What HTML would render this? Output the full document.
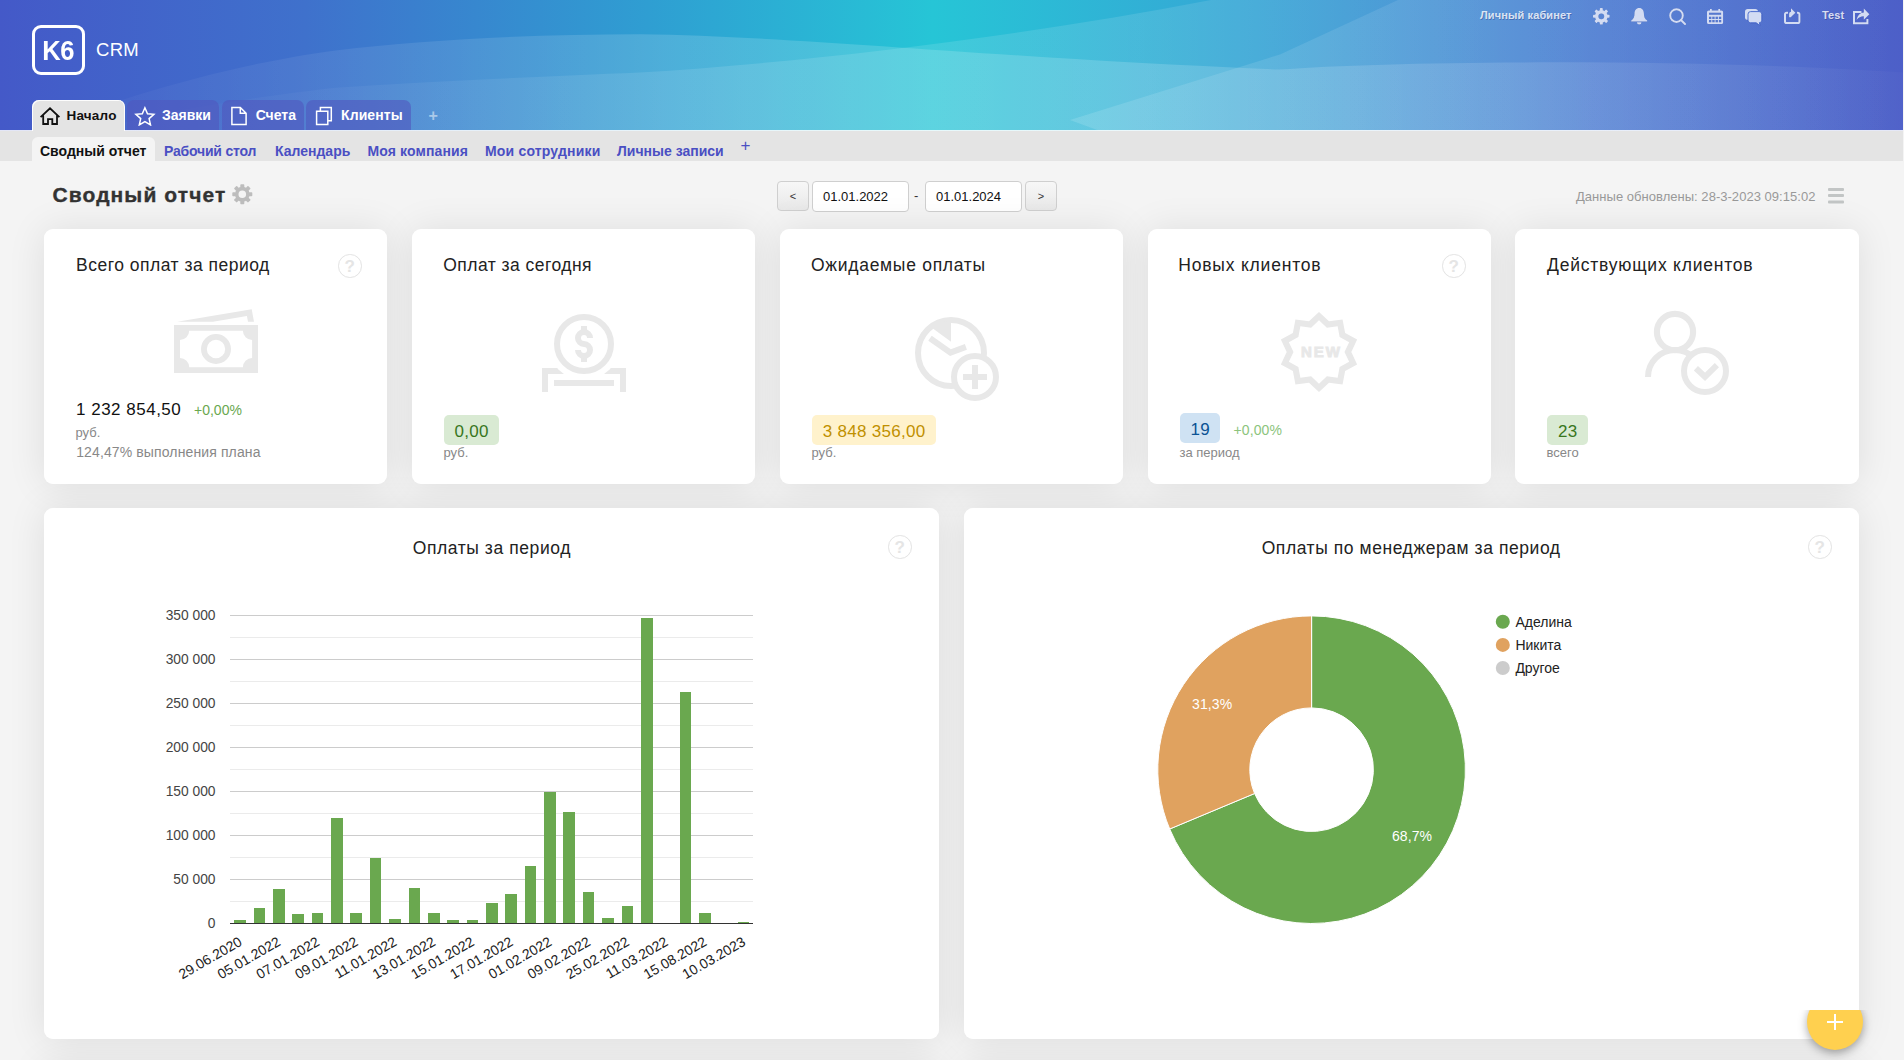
<!DOCTYPE html>
<html lang="ru">
<head>
<meta charset="utf-8">
<title>K6 CRM</title>
<style>
*{box-sizing:border-box;margin:0;padding:0}
html,body{width:1904px;height:1060px;overflow:hidden}
body{font-family:"Liberation Sans",sans-serif;background:#f4f4f4;color:#222;position:relative}
.abs{position:absolute;white-space:nowrap}
/* header */
#hdr{position:absolute;left:0;top:0;width:1903px;height:131px;overflow:hidden}
#hdr svg.bg{position:absolute;left:0;top:0}
#hline{position:absolute;left:0;top:130px;width:1904px;height:1px;background:rgba(255,255,255,.85)}
#logo{position:absolute;left:32px;top:25px;width:53px;height:50px;border:3px solid #fff;border-radius:9px;color:#fff;font-weight:700;font-size:27.500px;letter-spacing:-.5px;line-height:46px;text-align:center;padding-left:0}
#crm{left:96px;top:40px;color:#fff;font-size:18.500px;line-height:20px;letter-spacing:.3px}
.mtab{position:absolute;top:100px;height:30px;border-radius:7px 7px 0 0;background:rgba(80,86,190,.6);color:#fff;font-weight:700;font-size:14px;line-height:31px;white-space:nowrap}
.mtab.act{height:31px;background:#e4e4e4;color:#111;box-shadow:inset 1px 1px 0 rgba(255,255,255,.9),inset -1px 0 0 rgba(255,255,255,.9);font-size:13.5px;line-height:32px;letter-spacing:.2px}
.mtab span{position:absolute;top:0}
.mtab svg{position:absolute}
.topi{position:absolute;filter:drop-shadow(.7px .7px 0 rgba(30,40,110,.35))}
.toptxt{text-shadow:.7px .7px 0 rgba(30,40,110,.35);color:rgba(255,255,255,.8);font-weight:700;font-size:11px;top:8px;line-height:14px}
/* subnav */
#sub{position:absolute;left:0;top:131px;width:1903px;height:30px;background:#e4e4e4}
.stab{position:absolute;top:143px;font-weight:700;font-size:14px;line-height:16px;color:#4a4fc3;white-space:nowrap}
#sact{position:absolute;left:32px;top:137px;width:123px;height:24px;background:#f4f4f4;border-radius:6px 6px 0 0}
/* toolbar */
#title{left:52.500px;top:181.500px;font-size:21px;font-weight:700;color:#333;line-height:26px;letter-spacing:1.1px;-webkit-text-stroke:.35px #333}
.btn{position:absolute;top:181px;height:30px;width:32px;border:1px solid #cfcfcf;border-radius:4px;background:linear-gradient(#f7f7f7,#e8e8e8);font-size:11px;text-align:center;line-height:28px;color:#333}
.inp{position:absolute;top:181px;height:30.500px;width:97px;border:1px solid #cfcfcf;border-radius:4px;background:#fff;font-size:13px;line-height:30px;padding-left:10px;color:#111}
/* cards */
.card{position:absolute;background:#fff;border-radius:9px}
.sh{position:absolute;border-radius:9px;box-shadow:0 1px 38px rgba(0,0,0,.093)}
.kpi{top:229px;width:343px;height:255px}
.ct{position:absolute;left:31px;top:25px;font-size:17.5px;line-height:22px;color:#222;white-space:nowrap}
.q{position:absolute;width:23.500px;height:23.500px;border:1.300px solid #e3e3e3;border-radius:50%;color:#e5e5e5;font-weight:700;font-size:17px;line-height:24px;text-align:center}
.badge{position:absolute;left:32px;height:30px;border-radius:5px;font-size:17px;line-height:34px;text-align:center;letter-spacing:.3px;padding-left:.3px}
.unit{position:absolute;left:31.500px;font-size:13px;line-height:16px;color:#888;white-space:nowrap}
.pct{position:absolute;font-size:14px;line-height:16px;color:#6aa84f;white-space:nowrap}
.chart{top:508px;width:895px;height:531px}
.cht{position:absolute;top:28.500px;font-size:17.500px;line-height:22px;color:#222;white-space:nowrap;letter-spacing:.58px}
</style>
</head>
<body>

<!-- ================= HEADER ================= -->
<div id="hdr">
<svg class="bg" width="1904" height="131" viewBox="0 0 1904 130" preserveAspectRatio="none">
  <defs>
    <linearGradient id="g" x1="0" y1="0" x2="1" y2="0">
      <stop offset="0" stop-color="#4459c8"/>
      <stop offset="0.16" stop-color="#3f71cc"/>
      <stop offset="0.34" stop-color="#2f9ed2"/>
      <stop offset="0.49" stop-color="#26c5d6"/>
      <stop offset="0.66" stop-color="#37a5d5"/>
      <stop offset="0.84" stop-color="#4a7ad1"/>
      <stop offset="1" stop-color="#4d5fc8"/>
    </linearGradient>
    <linearGradient id="wa" gradientUnits="userSpaceOnUse" x1="0" y1="0" x2="1904" y2="0">
      <stop offset="0" stop-color="#fff" stop-opacity="0"/>
      <stop offset="0.12" stop-color="#fff" stop-opacity=".05"/>
      <stop offset="0.35" stop-color="#fff" stop-opacity=".15"/>
      <stop offset="0.6" stop-color="#fff" stop-opacity=".16"/>
      <stop offset="0.8" stop-color="#fff" stop-opacity=".12"/>
      <stop offset="1" stop-color="#fff" stop-opacity=".02"/>
    </linearGradient>
    <linearGradient id="wb" gradientUnits="userSpaceOnUse" x1="0" y1="0" x2="1904" y2="0">
      <stop offset="0" stop-color="#fff" stop-opacity="0"/>
      <stop offset="0.15" stop-color="#fff" stop-opacity=".03"/>
      <stop offset="0.4" stop-color="#fff" stop-opacity=".12"/>
      <stop offset="0.6" stop-color="#fff" stop-opacity=".11"/>
      <stop offset="0.8" stop-color="#fff" stop-opacity=".05"/>
      <stop offset="1" stop-color="#fff" stop-opacity="0"/>
    </linearGradient>
    <linearGradient id="wc" gradientUnits="userSpaceOnUse" x1="1070" y1="0" x2="1904" y2="0">
      <stop offset="0" stop-color="#fff" stop-opacity=".13"/>
      <stop offset="0.4" stop-color="#fff" stop-opacity=".09"/>
      <stop offset="1" stop-color="#fff" stop-opacity="0"/>
    </linearGradient>
  </defs>
  <rect width="1904" height="130" fill="url(#g)"/>
  <path d="M40 130 C 110 98, 240 62, 336 50 C 430 39, 540 34, 640 34 C 800 36, 1000 58, 1279 69 C 1400 60, 1700 58, 1904 72 L1904 130 Z" fill="url(#wa)"/>
  <path d="M90 130 C 180 106, 290 92, 336 87 C 440 80, 550 76, 640 72 C 800 62, 1000 40, 1211 0 L1904 0 L1904 130 Z" fill="url(#wb)"/>
  <path d="M1398 0 L1280 54 L1070 119 L1100 130 L1904 130 L1904 0 Z" fill="url(#wc)"/>
</svg>
<div id="hline"></div>
</div>

<div id="logo"><span style="display:inline-block;transform:scaleX(.93);transform-origin:50% 50%">K6</span></div>
<div id="crm" class="abs">CRM</div>

<!-- main tabs -->
<div class="mtab act" style="left:32px;width:93px">
  <svg style="left:7px;top:6px" width="22" height="20" viewBox="39 106 22 20" fill="none" stroke="#111" stroke-width="1.8" stroke-linejoin="miter"><path d="M40.6 117.2 L50 108.3 L59.4 117.2 M43.2 115.5 V124 H48 V119.2 H52.3 V124 H57 V115.5"/></svg>
  <span style="left:34.500px">Начало</span>
</div>
<div class="mtab" style="left:127px;width:92px">
  <svg style="left:7px;top:6px" width="22" height="20" viewBox="134 106 22 20" fill="none" stroke="#fff" stroke-width="1.5" stroke-linejoin="miter"><path d="M144.9 107.8 L147.5 113.7 L153.9 114.3 L149.1 118.6 L150.5 124.9 L144.9 121.6 L139.3 124.9 L140.7 118.6 L135.9 114.3 L142.3 113.7 Z"/></svg>
  <span style="left:35px">Заявки</span>
</div>
<div class="mtab" style="left:221.5px;width:82.5px">
  <svg style="left:8.5px;top:6px" width="18" height="20" viewBox="230 106 18 20" fill="none" stroke="#fff" stroke-width="1.5"><path d="M231.9 107.5 H240.3 L246.1 113.3 V124.5 H231.9 Z M240.3 107.5 V113.3 H246.1"/></svg>
  <span style="left:34.200px">Счета</span>
</div>
<div class="mtab" style="left:306px;width:105px">
  <svg style="left:9px;top:6px" width="18" height="20" viewBox="315 106 18 20" fill="none" stroke="#fff" stroke-width="1.5"><path d="M316.6 111.3 H327.8 V124.5 H316.6 Z M320.4 111.3 V107.4 H331.3 V120.8 H327.8"/></svg>
  <span style="left:35px;letter-spacing:.1px">Клиенты</span>
</div>
<div class="abs" style="left:428.5px;top:107px;color:rgba(255,255,255,.5);font-weight:700;font-size:16px;line-height:18px">+</div>

<!-- top right -->
<div class="abs toptxt" style="left:1480px;letter-spacing:.12px">Личный кабинет</div>
<div class="abs toptxt" style="left:1822px;letter-spacing:.1px">Test</div>
<svg class="topi" style="left:1593px;top:8px" width="17" height="17" viewBox="0 0 17 17"><g transform="translate(8.3 8.3)" fill="#d3dcf3"><circle r="4.600" fill="none" stroke="#d3dcf3" stroke-width="3.400"/><g id="th"><rect x="-1.500" y="-8.300" width="3" height="3" rx=".7"/></g><use href="#th" transform="rotate(45)"/><use href="#th" transform="rotate(90)"/><use href="#th" transform="rotate(135)"/><use href="#th" transform="rotate(180)"/><use href="#th" transform="rotate(225)"/><use href="#th" transform="rotate(270)"/><use href="#th" transform="rotate(315)"/></g></svg>
<svg class="topi" style="left:1631px;top:8px" width="17" height="17" viewBox="0 0 17 17" fill="#d3dcf3"><path d="M8.2 0 C4.9 0 3.5 2.6 3.5 5.6 C3.5 9 2.6 11 0.2 12.6 V13.4 H16.2 V12.6 C13.8 11 12.9 9 12.9 5.6 C12.9 2.6 11.5 0 8.2 0 Z"/><path d="M5.9 14.2 A2.3 2.3 0 0 0 10.5 14.2 Z"/></svg>
<svg class="topi" style="left:1669px;top:8px" width="17" height="17" viewBox="0 0 17 17" fill="none" stroke="#d3dcf3" stroke-width="2" stroke-linecap="round"><circle cx="7.5" cy="7.6" r="6.3"/><path d="M12.2 12.2 L16 16"/></svg>
<svg class="topi" style="left:1707px;top:9px" width="17" height="16" viewBox="0 0 17 16" fill="#d3dcf3"><path fill-rule="evenodd" d="M1.5 1.5 H14.6 Q16.1 1.5 16.1 3 V13.5 Q16.1 15 14.6 15 H1.5 Q0 15 0 13.500 V3 Q0 1.500 1.500 1.500 Z M2 3.800 H14.100 V5.800 H2 Z M2 7.800 H4.300 V10 H2 Z M5.300 7.800 H7.600 V10 H5.300 Z M8.600 7.800 H10.900 V10 H8.600 Z M11.900 7.800 H14.200 V10 H11.900 Z M2 11.100 H4.300 V13.300 H2 Z M5.300 11.100 H7.600 V13.300 H5.300 Z M8.600 11.100 H10.900 V13.300 H8.600 Z M11.900 11.100 H14.200 V13.300 H11.900 Z"/><rect x="3" y="0" width="1.8" height="2.500"/><rect x="11.300" y="0" width="1.8" height="2.500"/></svg>
<svg class="topi" style="left:1745px;top:9px" width="18" height="17" viewBox="0 0 18 17"><rect x="0" y="0" width="13" height="10.8" rx="2.600" fill="#d3dcf3"/><path d="M5.600 2.600 H14.200 Q16.800 2.600 16.800 5.200 V11.200 Q16.800 13.800 14.200 13.800 H14.400 L15 16.600 L11.200 13.800 H5.600 Q3 13.800 3 11.200 V5.200 Q3 2.600 5.600 2.600 Z" fill="#d3dcf3" stroke="#4f70cf" stroke-width="1"/></svg>
<svg class="topi" style="left:1784px;top:7.500px" width="17" height="17" viewBox="0 0 17 17" fill="none" stroke="#d3dcf3" stroke-width="2"><path d="M4 4.700 H2.600 Q1 4.700 1 6.300 V13.400 Q1 15 2.600 15 H13.800 Q15.400 15 15.400 13.400 V6.300 Q15.400 4.700 13.800 4.700 H13"/><path d="M6.100 9.200 V5.800 Q6.100 4.700 7.200 4.700"/><path d="M7 0.300 L11.400 4.700 L7 9.100 Z" fill="#d3dcf3" stroke="none"/></svg>
<svg class="topi" style="left:1853px;top:8px" width="17" height="17" viewBox="0 0 17 17"><path d="M8.500 4 H1 V15.200 H14.400 V11" fill="none" stroke="#d3dcf3" stroke-width="2"/><path d="M3.600 12 C4.200 7.300 7.300 4.600 10.800 4.400 V0.600 L16.400 6.200 L10.800 11.800 V8.200 C7.800 8.200 5.400 9.300 3.600 12 Z" fill="#d3dcf3"/></svg>

<!-- ================= SUBNAV ================= -->
<div id="sub"></div>
<div id="sact"></div>
<div class="stab" style="left:40px;color:#111">Сводный отчет</div>
<div class="stab" style="left:164px;letter-spacing:-.2px">Рабочий стол</div>
<div class="stab" style="left:275px">Календарь</div>
<div class="stab" style="left:367.500px;letter-spacing:.12px">Моя компания</div>
<div class="stab" style="left:485px;letter-spacing:.18px">Мои сотрудники</div>
<div class="stab" style="left:617px">Личные записи</div>
<div class="abs" style="left:740.500px;top:136.500px;color:#4a4fc3;font-size:17px;line-height:18px">+</div>

<!-- ================= TOOLBAR ================= -->
<div id="title" class="abs">Сводный отчет</div>
<svg class="abs" style="left:232px;top:184px" width="21" height="21" viewBox="0 0 21 21"><g transform="translate(10.3 10.2)" fill="#bdbdbd"><circle r="5.600" fill="none" stroke="#bdbdbd" stroke-width="3.600"/><g id="tg"><rect x="-2" y="-10" width="4" height="3.600" rx=".8"/></g><use href="#tg" transform="rotate(45)"/><use href="#tg" transform="rotate(90)"/><use href="#tg" transform="rotate(135)"/><use href="#tg" transform="rotate(180)"/><use href="#tg" transform="rotate(225)"/><use href="#tg" transform="rotate(270)"/><use href="#tg" transform="rotate(315)"/></g></svg>
<div class="btn" style="left:777px">&lt;</div>
<div class="inp" style="left:812px">01.01.2022</div>
<div class="abs" style="left:914px;top:188px;font-size:13px;color:#333;line-height:16px">-</div>
<div class="inp" style="left:925px">01.01.2024</div>
<div class="btn" style="left:1025px">&gt;</div>
<div class="abs" style="left:1576px;top:189px;font-size:13px;line-height:16px;color:#999;letter-spacing:.03px">Данные обновлены: 28-3-2023 09:15:02</div>
<div class="abs" style="left:1828px;top:188px;width:16px;height:3px;background:#c2c5c5;border-radius:1px;box-shadow:0 6px 0 #c2c5c5,0 12.5px 0 #c2c5c5"></div>

<!-- shadows layer -->
<div class="sh" style="left:44px;top:229px;width:343px;height:255px"></div>
<div class="sh" style="left:412px;top:229px;width:343px;height:255px"></div>
<div class="sh" style="left:780px;top:229px;width:343px;height:255px"></div>
<div class="sh" style="left:1148px;top:229px;width:343px;height:255px"></div>
<div class="sh" style="left:1515px;top:229px;width:344px;height:255px"></div>
<div class="sh" style="left:44px;top:508px;width:895px;height:531px"></div>
<div class="sh" style="left:964px;top:508px;width:895px;height:531px"></div>
<div class="sh" style="left:44px;top:1064px;width:895px;height:300px"></div>
<div class="sh" style="left:964px;top:1064px;width:895px;height:300px"></div>
<!-- ================= KPI CARDS ================= -->
<div class="card kpi" style="left:44px" id="k1">
  <svg class="abs" style="left:126px;top:76px" width="92" height="72" viewBox="170 305 92 72"><path fill="#e8e8e8" fill-rule="evenodd" d="M174 325 H258 V373 H174 Z M189.200 330.700 A9.200 9.200 0 0 1 180 339.900 V358 A9.200 9.200 0 0 1 189.200 367.200 H242.900 A9.200 9.200 0 0 1 252.100 358 V339.900 A9.200 9.200 0 0 1 242.900 330.700 Z"/><circle cx="216" cy="349" r="12.100" fill="none" stroke="#e8e8e8" stroke-width="5.800"/><path fill="#e8e8e8" d="M177.200 321.700 L251.700 309.200 L254 321.700 H248 L246.900 316 L213 321.700 Z"/></svg>
  <div class="ct" style="left:32px;letter-spacing:.5px">Всего оплат за период</div>
  <div class="q" style="left:294px;top:25px">?</div>
  <div class="abs" style="left:32px;top:171px;font-size:17px;line-height:20px;color:#111;letter-spacing:.5px">1 232 854,50</div>
  <div class="pct" style="left:150px;top:173px">+0,00%</div>
  <div class="unit" style="top:196px">руб.</div>
  <div class="unit" style="top:215px;left:32.200px;font-size:14px;letter-spacing:.12px">124,47% выполнения плана</div>
</div>
<div class="card kpi" style="left:412px" id="k2">
  <svg class="abs" style="left:126px;top:81px" width="92" height="86" viewBox="538 310 92 86"><path fill="none" stroke="#e8e8e8" stroke-width="6" d="M545 392 V371 H623 V392"/><circle cx="584" cy="344" r="36.200" fill="#fff"/><circle cx="584" cy="344" r="27" fill="none" stroke="#e8e8e8" stroke-width="6"/><rect x="554" y="380" width="60" height="6" fill="#e8e8e8"/><rect x="581" y="326" width="6" height="5.500" fill="#e8e8e8"/><rect x="581" y="356.500" width="6" height="5.500" fill="#e8e8e8"/><path fill="none" stroke="#e8e8e8" stroke-width="6" d="M590 338 A6 6 0 1 0 584 344 A6 6 0 1 1 578 350"/></svg>
  <div class="ct" style="left:31.3px;letter-spacing:.46px">Оплат за сегодня</div>
  <div class="badge" style="top:186px;width:55px;background:#d9ead3;color:#38761d">0,00</div>
  <div class="unit" style="top:216px">руб.</div>
</div>
<div class="card kpi" style="left:780px" id="k3">
  <svg class="abs" style="left:130px;top:83px" width="94" height="94" viewBox="910 312 94 94"><circle cx="951" cy="353" r="33" fill="none" stroke="#e8e8e8" stroke-width="6"/><path fill="#e8e8e8" d="M951 341.700 V321 A32 32 0 0 0 931.500 327.600 Z"/><path fill="none" stroke="#e8e8e8" stroke-width="6" d="M930 338.200 L950.500 352.600 L965.900 346.900"/><circle cx="975" cy="377" r="21" fill="#fff" stroke="#e8e8e8" stroke-width="6"/><rect x="963" y="374" width="24" height="6" fill="#e8e8e8"/><rect x="972" y="365" width="6" height="24" fill="#e8e8e8"/></svg>
  <div class="ct" style="left:31px;letter-spacing:.72px">Ожидаемые оплаты</div>
  <div class="badge" style="top:186px;width:124px;background:#fff2cc;color:#bf9000">3 848 356,00</div>
  <div class="unit" style="top:216px">руб.</div>
</div>
<div class="card kpi" style="left:1148px" id="k4">
  <svg class="abs" style="left:127px;top:79px" width="90" height="90" viewBox="1275 308 90 90"><path fill="#e8e8e8" fill-rule="evenodd" d="M1319.00 311.90 L1328.98 321.28 L1342.57 319.56 L1345.13 333.01 L1357.14 339.61 L1351.30 352.00 L1357.14 364.39 L1345.13 370.99 L1342.57 384.44 L1328.98 382.72 L1319.00 392.10 L1309.02 382.72 L1295.43 384.44 L1292.87 370.99 L1280.86 364.39 L1286.70 352.00 L1280.86 339.61 L1292.87 333.01 L1295.43 319.56 L1309.02 321.28 Z M1319.00 320.30 L1326.88 327.75 L1337.63 326.35 L1339.63 337.01 L1349.15 342.20 L1344.50 352.00 L1349.15 361.80 L1339.63 366.99 L1337.63 377.65 L1326.88 376.25 L1319.00 383.70 L1311.12 376.25 L1300.37 377.65 L1298.37 366.99 L1288.85 361.80 L1293.50 352.00 L1288.85 342.20 L1298.37 337.01 L1300.37 326.35 L1311.12 327.75 Z"/><text x="1321.500" y="356.600" text-anchor="middle" font-family="Liberation Sans, sans-serif" font-weight="700" font-size="15" letter-spacing="2" fill="#e8e8e8" stroke="#e8e8e8" stroke-width=".9">NEW</text></svg>
  <div class="ct" style="left:30.3px;letter-spacing:.8px">Новых клиентов</div>
  <div class="q" style="left:294px;top:25px">?</div>
  <div class="badge" style="top:184px;width:40px;background:#cfe2f3;color:#0b5394">19</div>
  <div class="pct" style="left:85.500px;top:192.500px;color:#8cc47c;letter-spacing:.1px">+0,00%</div>
  <div class="unit" style="top:216px">за период</div>
</div>
<div class="card kpi" style="left:1515px;width:344px" id="k5">
  <svg class="abs" style="left:125px;top:77px" width="94" height="94" viewBox="1640 306 94 94"><circle cx="1675" cy="332" r="18.100" fill="none" stroke="#e8e8e8" stroke-width="6.100"/><path fill="none" stroke="#e8e8e8" stroke-width="6" d="M1648 377 A27 27 0 0 1 1702 377"/><circle cx="1705" cy="371" r="21" fill="#fff" stroke="#e8e8e8" stroke-width="6"/><path fill="none" stroke="#e8e8e8" stroke-width="6" d="M1695.900 368.200 L1705 376.800 L1716.900 365.100"/></svg>
  <div class="ct" style="left:32px;letter-spacing:.78px">Действующих клиентов</div>
  <div class="badge" style="top:186px;width:41px;background:#d9ead3;color:#38761d">23</div>
  <div class="unit" style="top:216px">всего</div>
</div>

<!-- ================= CHART CARDS ================= -->

<div class="card chart" style="left:44px" id="c1">
  <div class="cht" style="left:368.700px">Оплаты за период</div>
  <div class="q" style="left:844px;top:27px">?</div>
  <!--BAR-->
<svg class="abs" style="left:0;top:0" width="895" height="531" viewBox="44 508 895 531" font-family="Liberation Sans, sans-serif">
<rect x="230" y="901" width="523" height="1" fill="#ebebeb"/>
<rect x="230" y="857" width="523" height="1" fill="#ebebeb"/>
<rect x="230" y="813" width="523" height="1" fill="#ebebeb"/>
<rect x="230" y="769" width="523" height="1" fill="#ebebeb"/>
<rect x="230" y="725" width="523" height="1" fill="#ebebeb"/>
<rect x="230" y="681" width="523" height="1" fill="#ebebeb"/>
<rect x="230" y="637" width="523" height="1" fill="#ebebeb"/>
<rect x="230" y="879" width="523" height="1" fill="#cccccc"/>
<rect x="230" y="835" width="523" height="1" fill="#cccccc"/>
<rect x="230" y="791" width="523" height="1" fill="#cccccc"/>
<rect x="230" y="747" width="523" height="1" fill="#cccccc"/>
<rect x="230" y="703" width="523" height="1" fill="#cccccc"/>
<rect x="230" y="659" width="523" height="1" fill="#cccccc"/>
<rect x="230" y="615" width="523" height="1" fill="#cccccc"/>
<rect x="234" y="920" width="12" height="3" fill="#6aa84f"/>
<rect x="254" y="908" width="11" height="15" fill="#6aa84f"/>
<rect x="273" y="889" width="12" height="34" fill="#6aa84f"/>
<rect x="292" y="914" width="12" height="9" fill="#6aa84f"/>
<rect x="312" y="913" width="11" height="10" fill="#6aa84f"/>
<rect x="331" y="818" width="12" height="105" fill="#6aa84f"/>
<rect x="350" y="913" width="12" height="10" fill="#6aa84f"/>
<rect x="370" y="858" width="11" height="65" fill="#6aa84f"/>
<rect x="389" y="919" width="12" height="4" fill="#6aa84f"/>
<rect x="409" y="888" width="11" height="35" fill="#6aa84f"/>
<rect x="428" y="913" width="12" height="10" fill="#6aa84f"/>
<rect x="447" y="920" width="12" height="3" fill="#6aa84f"/>
<rect x="467" y="920" width="11" height="3" fill="#6aa84f"/>
<rect x="486" y="903" width="12" height="20" fill="#6aa84f"/>
<rect x="505" y="894" width="12" height="29" fill="#6aa84f"/>
<rect x="525" y="866" width="11" height="57" fill="#6aa84f"/>
<rect x="544" y="792" width="12" height="131" fill="#6aa84f"/>
<rect x="563" y="812" width="12" height="111" fill="#6aa84f"/>
<rect x="583" y="892" width="11" height="31" fill="#6aa84f"/>
<rect x="602" y="918" width="12" height="5" fill="#6aa84f"/>
<rect x="622" y="906" width="11" height="17" fill="#6aa84f"/>
<rect x="641" y="618" width="12" height="305" fill="#6aa84f"/>
<rect x="680" y="692" width="11" height="231" fill="#6aa84f"/>
<rect x="699" y="913" width="12" height="10" fill="#6aa84f"/>
<rect x="738" y="922" width="11" height="1" fill="#6aa84f"/>
<rect x="230" y="923" width="523" height="1" fill="#333"/>
<text x="215.5" y="927.8" text-anchor="end" font-size="13.8" fill="#444">0</text>
<text x="215.5" y="883.8" text-anchor="end" font-size="13.8" fill="#444">50 000</text>
<text x="215.5" y="839.8" text-anchor="end" font-size="13.8" fill="#444">100 000</text>
<text x="215.5" y="795.8" text-anchor="end" font-size="13.8" fill="#444">150 000</text>
<text x="215.5" y="751.8" text-anchor="end" font-size="13.8" fill="#444">200 000</text>
<text x="215.5" y="707.8" text-anchor="end" font-size="13.8" fill="#444">250 000</text>
<text x="215.5" y="663.8" text-anchor="end" font-size="13.8" fill="#444">300 000</text>
<text x="215.5" y="619.8" text-anchor="end" font-size="13.8" fill="#444">350 000</text>
<text transform="translate(242.9 944.5) rotate(-30)" text-anchor="end" font-size="14" fill="#222">29.06.2020</text>
<text transform="translate(281.6 944.5) rotate(-30)" text-anchor="end" font-size="14" fill="#222">05.01.2022</text>
<text transform="translate(320.4 944.5) rotate(-30)" text-anchor="end" font-size="14" fill="#222">07.01.2022</text>
<text transform="translate(359.1 944.5) rotate(-30)" text-anchor="end" font-size="14" fill="#222">09.01.2022</text>
<text transform="translate(397.8 944.5) rotate(-30)" text-anchor="end" font-size="14" fill="#222">11.01.2022</text>
<text transform="translate(436.6 944.5) rotate(-30)" text-anchor="end" font-size="14" fill="#222">13.01.2022</text>
<text transform="translate(475.3 944.5) rotate(-30)" text-anchor="end" font-size="14" fill="#222">15.01.2022</text>
<text transform="translate(514.1 944.5) rotate(-30)" text-anchor="end" font-size="14" fill="#222">17.01.2022</text>
<text transform="translate(552.8 944.5) rotate(-30)" text-anchor="end" font-size="14" fill="#222">01.02.2022</text>
<text transform="translate(591.6 944.5) rotate(-30)" text-anchor="end" font-size="14" fill="#222">09.02.2022</text>
<text transform="translate(630.3 944.5) rotate(-30)" text-anchor="end" font-size="14" fill="#222">25.02.2022</text>
<text transform="translate(669.0 944.5) rotate(-30)" text-anchor="end" font-size="14" fill="#222">11.03.2022</text>
<text transform="translate(707.8 944.5) rotate(-30)" text-anchor="end" font-size="14" fill="#222">15.08.2022</text>
<text transform="translate(746.5 944.5) rotate(-30)" text-anchor="end" font-size="14" fill="#222">10.03.2023</text>
</svg>
<!--/BAR-->
</div>
<div class="card chart" style="left:964px" id="c2">
  <div class="cht" style="left:297.700px;letter-spacing:.57px">Оплаты по менеджерам за период</div>
  <div class="q" style="left:844px;top:27px">?</div>
  <!--DONUT-->
<svg class="abs" style="left:0;top:0" width="895" height="531" viewBox="964 508 895 531" font-family="Liberation Sans, sans-serif">
<path d="M1311.60 615.90 A153.8 153.8 0 1 1 1169.69 829.00 L1254.58 793.53 A61.8 61.8 0 1 0 1311.60 707.90 Z" fill="#6aa84f" stroke="#fff" stroke-width="1"/>
<path d="M1169.69 829.00 A153.8 153.8 0 0 1 1311.60 615.90 L1311.60 707.90 A61.8 61.8 0 0 0 1254.58 793.53 Z" fill="#e0a25f" stroke="#fff" stroke-width="1"/>
<text x="1412" y="841.3" text-anchor="middle" font-size="14" fill="#fff" letter-spacing=".1">68,7%</text>
<text x="1212.2" y="709" text-anchor="middle" font-size="14" fill="#fff" letter-spacing=".1">31,3%</text>
<circle cx="1502.8" cy="621.8" r="7" fill="#6aa84f"/>
<text x="1515.4" y="627.1" font-size="14" fill="#222">Аделина</text>
<circle cx="1502.8" cy="644.9" r="7" fill="#e0a25f"/>
<text x="1515.4" y="650.2" font-size="14" fill="#222">Никита</text>
<circle cx="1502.8" cy="668.0" r="7" fill="#cccccc"/>
<text x="1515.4" y="673.3" font-size="14" fill="#222">Другое</text>
</svg>
<!--/DONUT-->
</div>

<!-- FAB -->
<div style="position:absolute;left:1780px;top:1010px;width:124px;height:50px;overflow:hidden">
  <div style="position:absolute;left:27px;top:-16px;width:56px;height:56px;border-radius:50%;background:#ffd04f;box-shadow:0 3px 10px rgba(0,0,0,.35)"></div>
  <div style="position:absolute;left:47px;top:11px;width:16px;height:2px;background:#fff"></div>
  <div style="position:absolute;left:54px;top:4px;width:2px;height:16px;background:#fff"></div>
</div>

</body>
</html>
